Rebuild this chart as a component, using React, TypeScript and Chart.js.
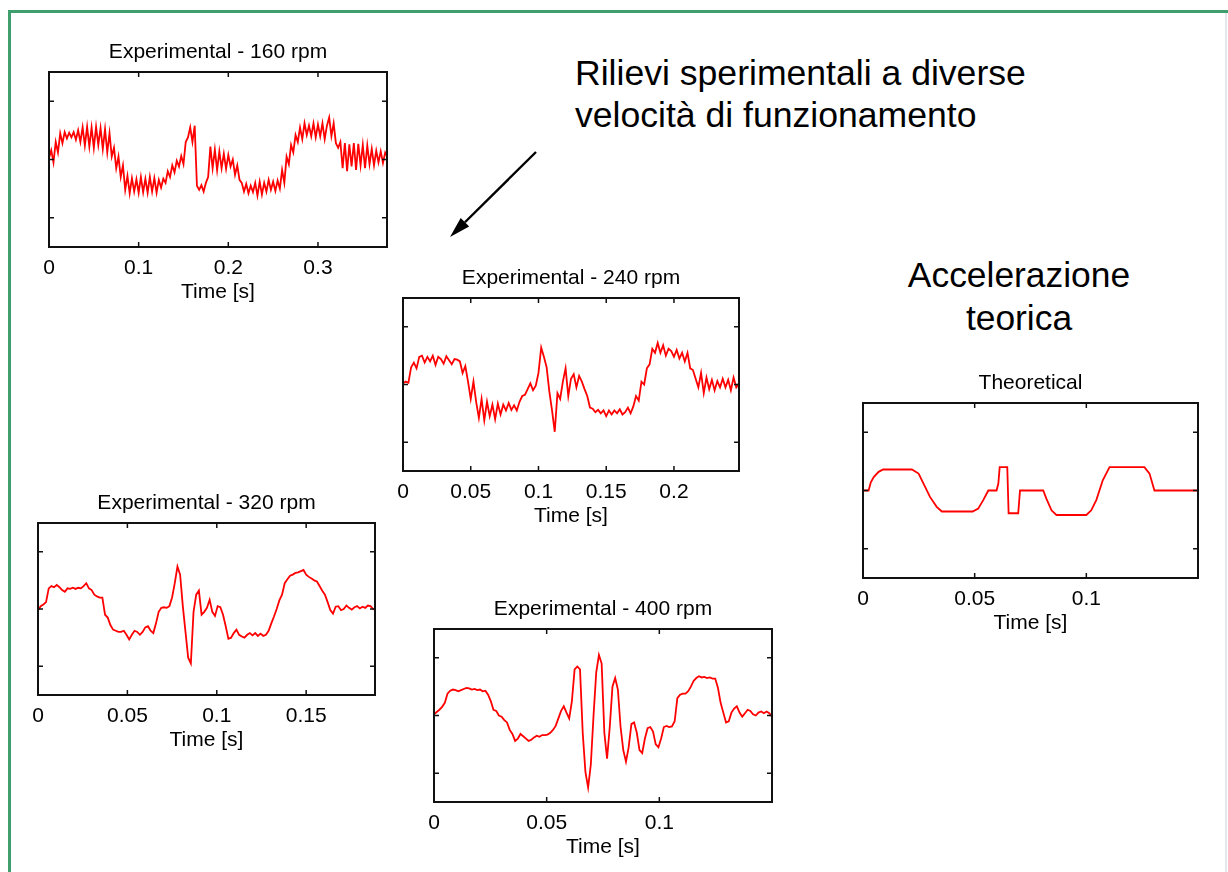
import React, { useEffect, useRef } from "react";
import { Chart, registerables } from "chart.js";

Chart.register(...registerables);

const FONT = "'Liberation Sans', Arial, Helvetica, sans-serif";

// ---------- data (y in tick units) ----------
const Y_TICKS = [-1, 0, 1];
const Y_MIN = -1.5;
const Y_MAX = 1.5;

// 160 rpm, sample interval 2.5 ms
const RPM160_DT = 0.0025;
const RPM160_VALUES = [
  0.02, 0.16, -0.05, 0.3, 0.12, 0.45, 0.28, 0.47, 0.36, 0.46,
  0.38, 0.47, 0.34, 0.5, 0.3, 0.55, 0.24, 0.56, 0.22, 0.55,
  0.2, 0.56, 0.25, 0.54, 0.18, 0.52, 0.12, 0.45, 0.05, 0.2,
  -0.15, 0.05, -0.3, -0.1, -0.52, -0.28, -0.58, -0.32, -0.55, -0.34,
  -0.57, -0.3, -0.56, -0.33, -0.57, -0.3, -0.55, -0.32, -0.57, -0.35,
  -0.48, -0.33, -0.4, -0.2, -0.3, -0.1, -0.22, -0.02, -0.12, 0.06,
  -0.08, 0.3, 0.38, 0.55, 0.3, 0.58, -0.45, -0.52, -0.44, -0.55,
  -0.4, -0.3, 0.22, -0.15, 0.17, -0.18, 0.14, -0.15, 0.1, -0.16,
  0.08, -0.12, 0.0, -0.26, -0.1, -0.35, -0.4, -0.55, -0.42, -0.58,
  -0.45, -0.56, -0.4, -0.62, -0.38, -0.6, -0.4, -0.55, -0.35, -0.52,
  -0.38, -0.54, -0.36, -0.5, -0.18, -0.4, 0.05, -0.08, 0.25, 0.12,
  0.42, 0.3, 0.55, 0.35, 0.62, 0.42, 0.58, 0.4, 0.62, 0.38,
  0.6, 0.4, 0.62, 0.35, 0.58, 0.72, 0.4, 0.62, 0.28, 0.2,
  0.3, -0.15, 0.28, -0.2, 0.26, -0.12, 0.28, -0.18, 0.27, -0.1,
  0.25, -0.15, 0.24, -0.08, 0.18, -0.1, 0.15, -0.05, 0.14, -0.06,
  0.12, 0.05,
];

// 240 rpm, sample interval 2 ms
const RPM240_DT = 0.002;
const RPM240_VALUES = [
  0.02, 0.05, 0.03, 0.3, 0.38, 0.28, 0.48, 0.5, 0.38, 0.48,
  0.4, 0.5, 0.34, 0.48, 0.44, 0.36, 0.49, 0.42, 0.35, 0.44,
  0.43, 0.4, 0.2, 0.32, 0.05, -0.25, 0.05, -0.3, -0.58, -0.25,
  -0.62, -0.3, -0.55, -0.35, -0.6, -0.33, -0.52, -0.35, -0.45, -0.32,
  -0.44, -0.36, -0.45, -0.3, -0.2, -0.18, -0.08, 0.02, -0.1, -0.02,
  0.2, 0.64, 0.48, 0.3, -0.12, -0.45, -0.82, -0.15, -0.25, 0.05,
  0.28, -0.2, 0.1, 0.18, -0.05, 0.15, 0.05, -0.08, -0.2, -0.4,
  -0.42, -0.48, -0.44, -0.5, -0.45, -0.55, -0.45, -0.52, -0.45, -0.5,
  -0.43, -0.52, -0.48, -0.4, -0.5, -0.38, -0.2, -0.28, 0.05, 0.0,
  0.28, 0.35, 0.62, 0.55, 0.72, 0.55, 0.68, 0.5, 0.62, 0.58,
  0.48, 0.6, 0.45, 0.55, 0.4, 0.55, 0.28, 0.25, 0.1, -0.05,
  0.2, -0.15, 0.12, -0.08, 0.08, -0.1, 0.06, -0.05, 0.1, -0.05,
  0.08, -0.1, 0.12, -0.05, 0.02,
];

// 320 rpm, sample interval 1.5 ms
const RPM320_DT = 0.0015;
const RPM320_VALUES = [
  -0.02, 0.05, 0.08, 0.12, 0.36, 0.4, 0.38, 0.42, 0.38, 0.33,
  0.3, 0.36, 0.35, 0.37, 0.35, 0.37, 0.36, 0.4, 0.45, 0.36,
  0.33, 0.25, 0.22, 0.2, 0.2, -0.1, -0.15, -0.28, -0.36, -0.38,
  -0.4, -0.4, -0.38, -0.45, -0.53, -0.45, -0.38, -0.4, -0.45, -0.4,
  -0.32, -0.3, -0.38, -0.42, -0.25, -0.05, 0.02, 0.03, 0.02, 0.05,
  0.2, 0.45, 0.74, 0.6, 0.05, -0.4, -0.85, -0.95, -0.05, 0.25,
  0.32, -0.1, -0.05, 0.02, 0.16, -0.05, -0.12, 0.05, 0.03, -0.1,
  -0.3, -0.52, -0.5, -0.42, -0.36, -0.45, -0.48, -0.5, -0.45, -0.42,
  -0.46, -0.42, -0.47, -0.43, -0.47, -0.45, -0.38, -0.25, -0.13, 0.0,
  0.15, 0.25, 0.45, 0.52, 0.58, 0.6, 0.63, 0.64, 0.66, 0.68,
  0.6, 0.56, 0.53, 0.5, 0.48, 0.4, 0.32, 0.25, 0.12, -0.02,
  -0.08, 0.04, 0.05, -0.02, 0.0, 0.06, 0.02, -0.01, 0.03, 0.05,
  0.01, 0.04, 0.02, 0.06, 0.05, 0.0, -0.02,
];

// 400 rpm, sample interval 1.2 ms
const RPM400_DT = 0.0012;
const RPM400_VALUES = [
  0.02, 0.06, 0.1, 0.15, 0.22, 0.38, 0.43, 0.45, 0.44, 0.42,
  0.44, 0.46, 0.48, 0.47, 0.45, 0.46, 0.44, 0.45, 0.42, 0.43,
  0.36, 0.25, 0.1, 0.08, 0.0, -0.02, -0.08, -0.12, -0.25, -0.32,
  -0.44, -0.4, -0.32, -0.36, -0.4, -0.44, -0.42, -0.38, -0.35, -0.37,
  -0.34, -0.34, -0.33, -0.3, -0.25, -0.18, -0.05, 0.08, 0.16, 0.05,
  -0.05, 0.25, 0.8, 0.85, 0.8, -0.3, -0.98, -1.25, -0.85, 0.0,
  0.75, 1.05, 0.9, -0.3, -0.75, -0.2, 0.5, 0.65, 0.45, -0.2,
  -0.6, -0.8, -0.55, -0.15, -0.12, -0.3, -0.6, -0.65, -0.4, -0.22,
  -0.2, -0.28, -0.5, -0.55, -0.4, -0.2, -0.18, -0.2, -0.19, -0.1,
  0.3, 0.36, 0.38, 0.38, 0.42, 0.5, 0.6, 0.65, 0.68, 0.66,
  0.67, 0.65, 0.66, 0.64, 0.64, 0.48, 0.22, 0.05, -0.12, -0.1,
  0.05, 0.12, 0.16, 0.05, -0.02, 0.04, 0.1, 0.08, 0.02, 0.0,
  0.05, 0.07, 0.04, 0.07, 0.04, -0.02,
];

// theoretical acceleration: breakpoints
const THEO_TIME = [
  0, 0.0025, 0.0035, 0.0048, 0.007, 0.009, 0.0219, 0.0249, 0.03, 0.033,
  0.0353, 0.0491, 0.0516, 0.0539, 0.0561, 0.0598, 0.0606, 0.0612, 0.0646, 0.0652,
  0.0695, 0.0703, 0.0807, 0.0821, 0.0844, 0.0866, 0.1, 0.1022, 0.1045, 0.1074,
  0.1104, 0.126, 0.1283, 0.1305, 0.15,
];
const THEO_VALUES = [
  0, 0, 0.14, 0.23, 0.32, 0.36, 0.36, 0.29, -0.11, -0.28,
  -0.36, -0.36, -0.31, -0.16, 0, 0, 0.12, 0.4, 0.4, -0.39,
  -0.39, 0, 0, -0.14, -0.34, -0.42, -0.42, -0.34, -0.16, 0.18,
  0.4, 0.4, 0.29, 0, 0,
];

// x tick values and labels
const TICKS_160 = [0, 0.1, 0.2, 0.3];
const LABELS_160 = ["0", "0.1", "0.2", "0.3"];
const TICKS_240 = [0, 0.05, 0.1, 0.15, 0.2];
const LABELS_240 = ["0", "0.05", "0.1", "0.15", "0.2"];
const TICKS_320 = [0, 0.05, 0.1, 0.15];
const LABELS_320 = ["0", "0.05", "0.1", "0.15"];
const TICKS_400 = [0, 0.05, 0.1];
const LABELS_400 = ["0", "0.05", "0.1"];
const TICKS_THEO = [0, 0.05, 0.1];
const LABELS_THEO = ["0", "0.05", "0.1"];

const X_TITLE = "Time [s]";

// ---------- layout ----------
type Spec = {
  title: string;
  xMax: number;
  ticks: number[];
  labels: string[];
  points: { x: number; y: number }[];
  boxL: number;
  boxT: number;
  boxW: number;
  boxH: number;
};

const sampled = (values: number[], dt: number) =>
  values.map((v, i) => ({ x: i * dt, y: v }));
const paired = (t: number[], v: number[]) => t.map((x, i) => ({ x, y: v[i] }));

const SPECS: Spec[] = [
  { title: "Experimental - 160 rpm", xMax: 0.377, ticks: TICKS_160, labels: LABELS_160,
    points: sampled(RPM160_VALUES, RPM160_DT), boxL: 49, boxT: 72, boxW: 338, boxH: 175 },
  { title: "Experimental - 240 rpm", xMax: 0.248, ticks: TICKS_240, labels: LABELS_240,
    points: sampled(RPM240_VALUES, RPM240_DT), boxL: 403, boxT: 298, boxW: 336, boxH: 173 },
  { title: "Theoretical", xMax: 0.15, ticks: TICKS_THEO, labels: LABELS_THEO,
    points: paired(THEO_TIME, THEO_VALUES), boxL: 863, boxT: 403, boxW: 335, boxH: 175 },
  { title: "Experimental - 320 rpm", xMax: 0.1885, ticks: TICKS_320, labels: LABELS_320,
    points: sampled(RPM320_VALUES, RPM320_DT), boxL: 38, boxT: 523, boxW: 337, boxH: 172 },
  { title: "Experimental - 400 rpm", xMax: 0.15, ticks: TICKS_400, labels: LABELS_400,
    points: sampled(RPM400_VALUES, RPM400_DT), boxL: 434, boxT: 629, boxW: 338, boxH: 173 },
];

const SIDE = 30;
const TITLE_BLOCK = 32;
const TITLE_PAD_TOP = 1.5;
const X_AXIS_H = 56;
const TXT = 21;

const boxPlugin = {
  id: "matlabBox",
  afterDatasetsDraw(chart: any) {
    const { ctx, chartArea: a, scales } = chart;
    const xs = scales.x;
    const ys = scales.y;
    ctx.save();
    ctx.strokeStyle = "#111";
    ctx.lineWidth = 2;
    ctx.strokeRect(a.left, a.top, a.right - a.left, a.bottom - a.top);
    ctx.lineWidth = 1.5;
    const tl = 5;
    ctx.beginPath();
    for (const t of xs.ticks) {
      const px = xs.getPixelForValue(t.value);
      ctx.moveTo(px, a.bottom);
      ctx.lineTo(px, a.bottom - tl);
      ctx.moveTo(px, a.top);
      ctx.lineTo(px, a.top + tl);
    }
    for (const t of ys.ticks) {
      const py = ys.getPixelForValue(t.value);
      ctx.moveTo(a.left, py);
      ctx.lineTo(a.left + tl, py);
      ctx.moveTo(a.right, py);
      ctx.lineTo(a.right - tl, py);
    }
    ctx.stroke();
    ctx.restore();
  },
};

function Panel({ spec }: { spec: Spec }) {
  const ref = useRef<HTMLCanvasElement>(null);
  const cw = spec.boxW + 2 * SIDE;
  const ch = TITLE_BLOCK + spec.boxH + X_AXIS_H;
  useEffect(() => {
    const chart = new Chart(ref.current as HTMLCanvasElement, {
      type: "line",
      data: {
        datasets: [
          {
            data: spec.points,
            borderColor: "#ff0000",
            borderWidth: 1.8,
            pointRadius: 0,
            tension: 0,
            fill: false,
          },
        ],
      },
      options: {
        animation: false,
        responsive: false,
        devicePixelRatio: 1,
        events: [],
        layout: { padding: 0 },
        plugins: {
          legend: { display: false },
          tooltip: { enabled: false },
          title: {
            display: true,
            text: spec.title,
            color: "#000",
            font: { family: FONT, size: TXT, weight: "normal", lineHeight: 1 },
            padding: { top: TITLE_PAD_TOP, bottom: TITLE_BLOCK - TXT - TITLE_PAD_TOP },
          },
        },
        scales: {
          x: {
            type: "linear",
            min: 0,
            max: spec.xMax,
            afterBuildTicks: (s: any) => {
              s.ticks = spec.ticks.map((v) => ({ value: v }));
            },
            afterFit: (s: any) => {
              s.height = X_AXIS_H;
            },
            grid: { display: false, drawTicks: false },
            border: { display: false },
            ticks: {
              autoSkip: false,
              maxRotation: 0,
              padding: 11,
              color: "#000",
              font: { family: FONT, size: TXT, lineHeight: 1 },
              callback: (_v: any, i: number) => spec.labels[i],
            },
            title: {
              display: true,
              text: X_TITLE,
              color: "#000",
              font: { family: FONT, size: TXT, lineHeight: 1 },
              padding: { top: 0, bottom: 0 },
            },
          },
          y: {
            type: "linear",
            position: "left",
            min: Y_MIN,
            max: Y_MAX,
            afterBuildTicks: (s: any) => {
              s.ticks = Y_TICKS.map((v) => ({ value: v }));
            },
            afterFit: (s: any) => {
              s.width = SIDE;
            },
            grid: { display: false, drawTicks: false },
            border: { display: false },
            ticks: { display: false },
          },
          y2: {
            type: "linear",
            position: "right",
            min: Y_MIN,
            max: Y_MAX,
            afterFit: (s: any) => {
              s.width = SIDE;
            },
            grid: { display: false, drawTicks: false },
            border: { display: false },
            ticks: { display: false },
          },
        },
      },
      plugins: [boxPlugin],
    } as any);
    return () => chart.destroy();
  }, [spec]);
  return (
    <canvas
      ref={ref}
      width={cw}
      height={ch}
      style={{
        position: "absolute",
        left: spec.boxL - SIDE,
        top: spec.boxT - TITLE_BLOCK,
        width: cw,
        height: ch,
      }}
    />
  );
}

export default function App() {
  // arrow geometry
  const tip = { x: 450, y: 237 };
  const tail = { x: 536, y: 152 };
  const len = Math.hypot(tail.x - tip.x, tail.y - tip.y);
  const ux = (tail.x - tip.x) / len;
  const uy = (tail.y - tip.y) / len;
  const headL = 21;
  const headW = 6;
  const bx = tip.x + ux * headL;
  const by = tip.y + uy * headL;
  const head = `${tip.x},${tip.y} ${bx - uy * headW},${by + ux * headW} ${bx + uy * headW},${by - ux * headW}`;

  return (
    <div
      style={{
        position: "absolute",
        left: 0,
        top: 0,
        width: 1228,
        height: 872,
        overflow: "hidden",
        background: "#ffffff",
        fontFamily: FONT,
        color: "#000",
      }}
    >
      <div
        style={{
          position: "absolute",
          left: 8,
          top: 10,
          width: 1400,
          height: 1000,
          borderLeft: "3px solid #3f9f6c",
          borderTop: "3px solid #3f9f6c",
        }}
      />
      <div
        style={{
          position: "absolute",
          left: 1225,
          top: 13,
          width: 2,
          height: 872,
          background: "#e2e7eb",
        }}
      />
      {SPECS.map((s) => (
        <Panel key={s.title} spec={s} />
      ))}
      <div
        style={{
          position: "absolute",
          left: 575,
          top: 52,
          fontSize: 35.6,
          lineHeight: "42px",
          whiteSpace: "nowrap",
        }}
      >
        <div>Rilievi sperimentali a diverse</div>
        <div>velocità di funzionamento</div>
      </div>
      <div
        style={{
          position: "absolute",
          left: 880,
          top: 254,
          width: 278,
          textAlign: "center",
          fontSize: 35.4,
          lineHeight: "43px",
          whiteSpace: "nowrap",
        }}
      >
        <div>Accelerazione</div>
        <div>teorica</div>
      </div>
      <svg
        width={1228}
        height={872}
        style={{ position: "absolute", left: 0, top: 0 }}
      >
        <line x1={tail.x} y1={tail.y} x2={bx} y2={by} stroke="#000" strokeWidth={2.4} />
        <polygon points={head} fill="#000" />
      </svg>
    </div>
  );
}
